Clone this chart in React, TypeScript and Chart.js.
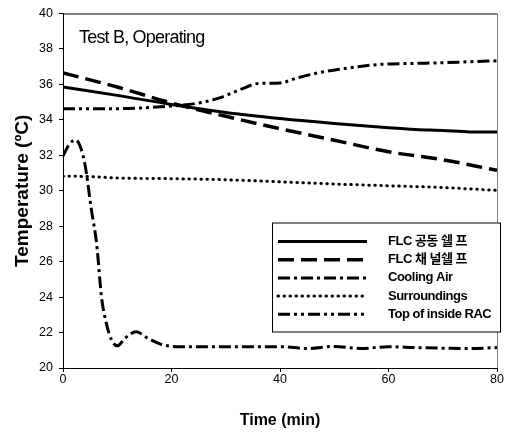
import React, { useEffect, useRef } from "react";
import { Chart, registerables } from "chart.js";

Chart.register(...registerables);

// ---- Data ----
const titleText = "Test B, Operating";
const xTitle = "Time (min)";
const yTitle = "Temperature (ºC)";
const seriesLabels = ["FLC 공동 쉘 프", "FLC 채 널쉘 프", "Cooling Air", "Surroundings", "Top of inside RAC"];

const flcCommonTime = [0, 10, 20, 30, 40, 50, 60, 65, 70, 75, 80];
const flcCommonTemp = [35.85, 35.38, 34.87, 34.42, 34.08, 33.8, 33.56, 33.46, 33.4, 33.32, 33.32];

const flcChannelTime = [0, 10, 20, 30, 40, 50, 60, 70, 80];
const flcChannelTemp = [36.65, 35.85, 34.95, 34.2, 33.5, 32.85, 32.2, 31.75, 31.15];

const coolingTime = [0, 1, 2.3, 3.3, 4.1, 5.2, 6.2, 7.1, 8, 9, 10, 11.5, 13.5, 15.5, 18, 21, 25, 30, 35, 40, 45, 50, 55, 60, 65, 70, 75, 80];
const coolingTemp = [31.95, 32.55, 32.87, 32.4, 31.4, 29.0, 27.0, 24.0, 22.5, 21.55, 21.25, 21.7, 22.05, 21.7, 21.35, 21.2, 21.2, 21.2, 21.2, 21.2, 21.1, 21.22, 21.1, 21.2, 21.15, 21.12, 21.1, 21.15];

const surroundTime = [0, 5, 10, 20, 30, 40, 50, 60, 70, 80];
const surroundTemp = [30.82, 30.8, 30.72, 30.68, 30.62, 30.5, 30.38, 30.28, 30.18, 30.02];

const racTime = [0, 10, 20, 25, 29, 33, 36, 40, 43, 47, 52, 58, 64, 70, 75, 80];
const racTemp = [34.62, 34.63, 34.78, 34.95, 35.25, 35.75, 36.05, 36.08, 36.35, 36.65, 36.9, 37.12, 37.18, 37.22, 37.28, 37.33];

const xMin = 0, xMax = 80, xStep = 20;
const yMin = 20, yMax = 40, yStep = 2;

// ---- Styles ----
const dashes: number[][] = [[], [16, 7], [12, 4, 3, 4], [0.5, 5.5], [12, 4, 3, 4, 3, 4]];
const caps: CanvasLineCap[] = ["butt", "butt", "butt", "round", "butt"];
const widths = [3, 3.5, 3, 3, 3];

const pairs = (t: number[], v: number[]) => t.map((x, i) => ({ x, y: v[i] }));

const overlayPlugin = {
  id: "overlay",
  afterDraw(chart: any) {
    const { ctx, chartArea } = chart;
    const { left, right, top, bottom } = chartArea;
    ctx.save();
    // frame top and right
    ctx.lineWidth = 1;
    ctx.setLineDash([]);
    ctx.strokeStyle = "#000";
    ctx.beginPath();
    ctx.moveTo(left, top + 0.5);
    ctx.lineTo(right, top + 0.5);
    ctx.stroke();
    ctx.strokeStyle = "#808080";
    ctx.beginPath();
    ctx.moveTo(right + 0.5, top);
    ctx.lineTo(right + 0.5, bottom);
    ctx.stroke();

    // title inside plot
    ctx.fillStyle = "#000";
    ctx.font = '18px "Liberation Sans", Arial, sans-serif';
    (ctx as any).letterSpacing = "-0.8px";
    ctx.textBaseline = "alphabetic";
    ctx.textAlign = "left";
    ctx.fillText(titleText, left + 16, top + 29);

    // legend box
    const bx = left + 209;
    const by = top + 209;
    const bw = 228;
    const bh = 109;
    ctx.fillStyle = "#fff";
    ctx.fillRect(bx, by, bw, bh);
    ctx.strokeStyle = "#000";
    ctx.lineWidth = 1;
    ctx.strokeRect(bx + 0.5, by + 0.5, bw, bh);

    ctx.font = 'bold 13px "Liberation Sans", "Noto Sans CJK KR", Arial, sans-serif';
    (ctx as any).letterSpacing = "-0.5px";
    ctx.textBaseline = "middle";
    seriesLabels.forEach((lab, i) => {
      const yy = by + 19 + i * 18.2;
      ctx.save();
      ctx.strokeStyle = "#000";
      ctx.lineWidth = widths[i];
      ctx.lineCap = caps[i];
      ctx.setLineDash(dashes[i]);
      ctx.beginPath();
      ctx.moveTo(bx + 6, yy);
      ctx.lineTo(bx + 95, yy);
      ctx.stroke();
      ctx.restore();
      ctx.fillStyle = "#000";
      ctx.fillText(lab, bx + 116, yy);
    });
    ctx.restore();
  },
};

export default function App() {
  const ref = useRef<HTMLCanvasElement | null>(null);

  useEffect(() => {
    if (!ref.current) return;
    const series = [
      pairs(flcCommonTime, flcCommonTemp),
      pairs(flcChannelTime, flcChannelTemp),
      pairs(coolingTime, coolingTemp),
      pairs(surroundTime, surroundTemp),
      pairs(racTime, racTemp),
    ];
    const chart = new Chart(ref.current, {
      type: "line",
      data: {
        datasets: series.map((d, i) => ({
          label: seriesLabels[i],
          data: d,
          borderColor: "#000",
          backgroundColor: "#000",
          borderWidth: widths[i],
          borderDash: dashes[i],
          borderCapStyle: caps[i],
          pointRadius: 0,
          pointHoverRadius: 0,
          fill: false,
          cubicInterpolationMode: "monotone",
        })),
      },
      options: {
        animation: false,
        responsive: false,
        maintainAspectRatio: false,
        layout: { padding: { top: 12, right: 12, left: 0, bottom: 0 } },
        plugins: {
          legend: { display: false },
          tooltip: { enabled: false },
          title: { display: false },
        },
        scales: {
          x: {
            type: "linear",
            min: xMin,
            max: xMax,
            ticks: {
              stepSize: xStep,
              padding: 0,
              color: "#000",
              font: { family: '"Liberation Sans", Arial, sans-serif', size: 12.5 },
              maxRotation: 0,
            },
            grid: { display: true, drawOnChartArea: false, drawTicks: true, tickLength: 4, color: "#000" },
            border: { display: true, color: "#000", width: 1 },
            title: {
              display: true,
              text: xTitle,
              color: "#000",
              font: { family: '"Liberation Sans", Arial, sans-serif', size: 16, weight: "bold" },
              padding: { top: 0, bottom: 4 },
            },
            afterFit: (s: any) => { s.height = 66; },
          },
          y: {
            type: "linear",
            min: yMin,
            max: yMax,
            ticks: {
              stepSize: yStep,
              padding: 6,
              color: "#000",
              font: { family: '"Liberation Sans", Arial, sans-serif', size: 12.5 },
            },
            grid: { display: true, drawOnChartArea: false, drawTicks: true, tickLength: 4, color: "#000" },
            border: { display: true, color: "#000", width: 1 },
            title: {
              display: true,
              text: yTitle,
              color: "#000",
              font: { family: '"Liberation Sans", Arial, sans-serif', size: 19, weight: "bold" },
              padding: { top: 11, bottom: 0 },
            },
            afterFit: (s: any) => { s.width = 63; },
          },
        },
      },
      plugins: [overlayPlugin],
    } as any);
    return () => chart.destroy();
  }, []);

  return (
    <div style={{ position: "absolute", left: 0, top: 0, width: 509, height: 434, background: "#fff" }}>
      <canvas ref={ref} width={509} height={434} style={{ width: 509, height: 434, display: "block" }} />
    </div>
  );
}
